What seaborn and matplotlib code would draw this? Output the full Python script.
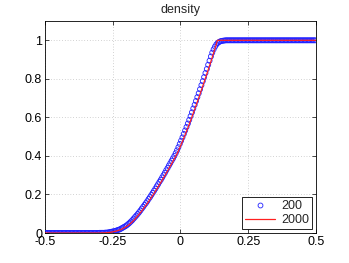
import numpy as np
import pandas as pd
import matplotlib
matplotlib.use("Agg")
import matplotlib.pyplot as plt
from matplotlib.lines import Line2D
import seaborn as sns

# ---- data ----
# 200-cell solution (blue circles), cell centres on [-0.5, 0.5]
x200 = np.linspace(-0.4975, 0.4975, 200)
y200_mid = [
    0.001, 0.001, 0.001, 0.001, 0.002, 0.002, 0.003, 0.004, 0.006, 0.007,
    0.009, 0.010, 0.012, 0.015, 0.017, 0.020, 0.024, 0.028, 0.032, 0.036,
    0.041, 0.047, 0.053, 0.060, 0.067, 0.075, 0.083, 0.091, 0.099, 0.108,
    0.117, 0.127, 0.136, 0.146, 0.155, 0.165, 0.176, 0.186, 0.197, 0.208,
    0.219, 0.230, 0.242, 0.253, 0.265, 0.276, 0.288, 0.300, 0.312, 0.325,
    0.337, 0.350, 0.362, 0.375, 0.387, 0.400, 0.414, 0.429, 0.445, 0.462,
    0.479, 0.496, 0.514, 0.532, 0.550, 0.568, 0.587, 0.606, 0.626, 0.646,
    0.665, 0.685, 0.705, 0.725, 0.746, 0.767, 0.788, 0.809, 0.830, 0.851,
    0.873, 0.894, 0.916, 0.936, 0.953, 0.967, 0.978, 0.986, 0.991, 0.995,
    0.997, 0.998, 0.999, 1.000,
]
y200 = [0.0] * 40 + y200_mid + [1.0] * 66

# 2000-cell reference solution (red line)
x2000 = [-0.5, -0.30, -0.29, -0.28, -0.27, -0.26, -0.25, -0.24, -0.23, -0.22,
         -0.21, -0.20, -0.19, -0.18, -0.17, -0.16, -0.15, -0.14, -0.13, -0.12,
         -0.11, -0.10, -0.09, -0.08, -0.07, -0.06, -0.05, -0.04, -0.03, -0.02,
         -0.01, 0.00, 0.01, 0.02, 0.03, 0.04, 0.05, 0.06, 0.07, 0.08,
         0.09, 0.10, 0.11, 0.12, 0.13, 0.1365, 0.5]
y2000 = [0.0, 0.000, 0.001, 0.001, 0.002, 0.003, 0.006, 0.009, 0.013, 0.018,
         0.025, 0.033, 0.043, 0.055, 0.069, 0.085, 0.102, 0.120, 0.139, 0.158,
         0.179, 0.200, 0.222, 0.245, 0.268, 0.292, 0.316, 0.341, 0.366, 0.391,
         0.418, 0.450, 0.484, 0.519, 0.555, 0.593, 0.632, 0.671, 0.711, 0.752,
         0.794, 0.836, 0.879, 0.923, 0.968, 1.000, 1.000]

series_labels = ["200", "2000"]
xticks = [-0.5, -0.25, 0, 0.25, 0.5]
xticklabels = ["-0.5", "-0.25", "0", "0.25", "0.5"]
yticks = [0, 0.2, 0.4, 0.6, 0.8, 1]
yticklabels = ["0", "0.2", "0.4", "0.6", "0.8", "1"]
title = "density"

BLUE = "#2020ff"
RED = "#ff2020"

# ---- styling ----
sns.set_style("ticks")
plt.rcParams["font.family"] = ["Liberation Sans", "DejaVu Sans"]

fig = plt.figure(figsize=(3.49, 2.63), dpi=100)
ax = fig.add_axes([0.129, 0.114, 0.776, 0.806])

df200 = pd.DataFrame({"x": x200, "y": y200})
df2000 = pd.DataFrame({"x": x2000, "y": y2000})

sns.scatterplot(data=df200, x="x", y="y", ax=ax, marker="o",
                facecolors="none", edgecolor=BLUE, linewidth=0.6,
                s=13, zorder=3, legend=False)
sns.lineplot(data=df2000, x="x", y="y", ax=ax, color=RED,
             linewidth=0.9, zorder=4, estimator=None, sort=False, legend=False)

ax.set_xlim(-0.5, 0.5)
ax.set_ylim(0, 1.1)
ax.set_xticks(xticks)
ax.set_xticklabels(xticklabels)
ax.set_yticks(yticks)
ax.set_yticklabels(yticklabels)
ax.set_xlabel("")
ax.set_ylabel("")
ax.grid(True, linestyle=(0, (1, 3)), color="#aaaaaa", linewidth=0.5)
ax.tick_params(direction="in", length=3, width=0.5, labelsize=9,
               top=True, right=True, colors="black")
ax.tick_params(axis="x", pad=2.5)
ax.tick_params(axis="y", pad=2)
for s in ax.spines.values():
    s.set_visible(True)
    s.set_linewidth(0.6)
    s.set_color("black")
ax.set_title(title, fontsize=9, pad=6)

handles = [
    Line2D([], [], linestyle="none", marker="o", markerfacecolor="none",
           markeredgecolor=BLUE, markeredgewidth=0.6, markersize=3.5),
    Line2D([], [], color=RED, linewidth=0.9),
]
leg = ax.legend(handles, series_labels, loc="lower right", fontsize=9,
                frameon=True, fancybox=False, edgecolor="black", framealpha=1,
                handlelength=2.4, borderpad=0.25, labelspacing=0.15,
                handletextpad=0.5, borderaxespad=0.3)
leg.get_frame().set_linewidth(0.6)

fig.savefig("out.png", dpi=100)
